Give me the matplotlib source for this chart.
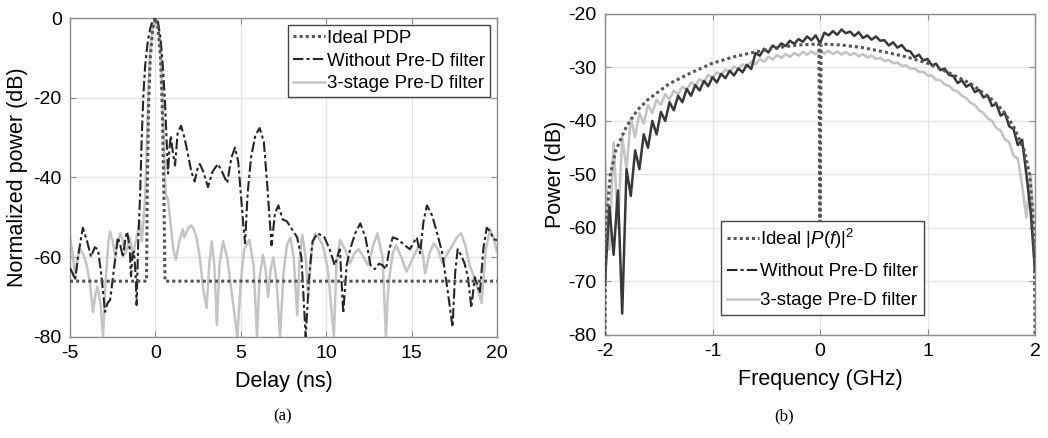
import numpy as np
import matplotlib
matplotlib.use('Agg')
import matplotlib.pyplot as plt
from matplotlib.lines import Line2D

plt.rcParams['font.family'] = ['Liberation Sans', 'DejaVu Sans']
plt.rcParams['mathtext.fontset'] = 'custom'
plt.rcParams['mathtext.rm'] = 'Liberation Sans'
plt.rcParams['mathtext.it'] = 'Liberation Sans:italic'
plt.rcParams['axes.unicode_minus'] = False

# ---- (a) power delay profile ----
ideal_x = [-5, -0.52, -0.48, -0.4, -0.3, -0.15, 0, 0.15, 0.3, 0.4, 0.5, 0.56, 20]
ideal_y = [-66, -66, -45, -22, -10, -2.5, 0, -2.5, -10, -22, -45, -66, -66]

wo_x = [-5.0, -4.85, -4.7, -4.5, -4.25, -4.0, -3.77, -3.55, -3.36, -3.15, -2.95, -2.8,
        -2.65, -2.4, -2.2, -2.05, -1.9, -1.75, -1.65, -1.5, -1.43, -1.33, -1.25, -1.15,
        -1.1, -1.0, -0.9, -0.8, -0.7, -0.6, -0.45, -0.3, -0.15, 0.0, 0.15, 0.3, 0.45,
        0.56, 0.65, 0.74, 0.82, 0.9, 1.0, 1.15, 1.3, 1.5, 1.7, 1.9, 2.1, 2.3, 2.45, 2.6,
        2.8, 3.08, 3.35, 3.66, 3.9, 4.2, 4.45, 4.66, 4.85, 5.0, 5.15, 5.25, 5.4, 5.6,
        5.85, 6.1, 6.35, 6.55, 6.8, 7.0, 7.2, 7.45, 7.7, 8.0, 8.3, 8.55, 8.8, 9.0, 9.2,
        9.5, 9.7, 9.9, 10.2, 10.5, 10.8, 11.0, 11.2, 11.4, 11.7, 12.0, 12.3, 12.6, 12.85,
        13.1, 13.3, 13.5, 13.7, 13.9, 14.2, 14.6, 14.9, 15.1, 15.3, 15.5, 15.7, 15.9,
        16.2, 16.5, 16.8, 17.1, 17.4, 17.55, 17.7, 17.9, 18.1, 18.3, 18.5, 18.7, 18.85,
        19.0, 19.2, 19.4, 19.6, 19.8, 20.0]
wo_y = [-62.7, -64, -65.7, -59, -52.6, -56, -59.9, -57.5, -58.1, -65, -73.7, -71.5,
        -70.7, -62, -55, -57, -60, -55, -53.6, -58, -64.8, -59, -58.6, -65,
        -72, -55, -45, -30, -19, -12, -6, -2.5, -0.6, 0, -1, -5, -13,
        -21, -30, -39, -33, -29.5, -33, -37, -29, -27, -30, -34, -38.5, -41, -38, -36.6,
        -38.5, -42.4, -38.5, -36.6, -38.5, -41.4, -35, -32.5, -36, -44, -52, -56.5, -44, -35,
        -29.5, -27.6, -31, -42, -57, -49, -47, -50.5, -51, -53, -55, -60, -80, -65, -56,
        -54, -54.5, -55, -58, -62, -58, -74, -62, -58, -54, -51.5, -55, -62, -63,
        -61.6, -62, -63, -58, -55, -55.5, -57, -58, -56.5, -55, -59, -51, -47,
        -49.5, -54, -59, -68, -77.5, -64, -58, -59.5, -61.5, -65, -72.7, -65, -67,
        -69, -58, -52.6, -53.5, -55.5, -55.7]

st_x = [-5.0, -4.85, -4.7, -4.55, -4.4, -4.2, -4.05, -3.85, -3.65, -3.5, -3.4, -3.2,
        -3.07, -2.9, -2.75, -2.65, -2.5, -2.35, -2.2, -2.05, -1.9, -1.75, -1.6, -1.5,
        -1.4, -1.3, -1.2, -1.1, -1.0, -0.9, -0.8, -0.7, -0.6, -0.5, -0.4, -0.3, -0.15,
        0.0, 0.15, 0.3, 0.4, 0.5, 0.6, 0.74, 0.9, 1.05, 1.2, 1.4, 1.6, 1.7, 1.8, 1.95,
        2.1, 2.25, 2.4, 2.6, 2.8, 3.0, 3.15, 3.3, 3.45, 3.6, 3.75, 3.96, 4.2, 4.5, 4.8,
        5.0, 5.2, 5.5, 5.75, 5.95, 6.1, 6.3, 6.45, 6.6, 6.75, 6.9, 7.1, 7.3, 7.5, 7.7,
        7.9, 8.1, 8.3, 8.45, 8.6, 8.8, 8.95, 9.15, 9.35, 9.55, 9.8, 10.1, 10.45, 10.6,
        10.8, 11.1, 11.4, 11.65, 11.9, 12.2, 12.45, 12.75, 13.0, 13.3, 13.5, 13.6, 13.7,
        13.9, 14.1, 14.4, 14.7, 15.1, 15.5, 15.65, 15.8, 16.05, 16.3, 16.55, 16.8, 17.1,
        17.4, 17.65, 17.9, 18.15, 18.4, 18.75, 19.1, 19.35, 19.6, 19.8, 20.0]
st_y = [-55, -59, -64.8, -60, -58, -59.5, -61.5, -66, -73.7, -69, -67.4, -72,
        -80, -65, -56, -53.6, -56, -59.9, -56, -54, -56, -59, -57, -55,
        -57.5, -60, -57, -55, -53, -51, -56, -51, -45, -32, -18, -8, -2,
        0, -2, -8, -18, -32, -44, -45.6, -52, -58, -60.6, -56, -53, -55, -54, -52.5,
        -52, -53, -55, -60, -68, -72.7, -62, -56, -62, -77, -62, -56, -60, -70, -80,
        -66, -58, -55.6, -62, -80, -65, -59.4, -63, -70, -63, -60, -66, -80, -64, -57,
        -55, -60, -74.5, -60, -54.4, -60, -70, -58, -54, -55, -57, -63, -80, -62,
        -55.6, -58, -61.5, -59, -58, -60, -62, -57, -54, -60, -80, -70, -65,
        -59, -57, -60, -63.6, -60, -56.5, -59, -64, -59, -56.5, -58, -61.5, -59,
        -57, -55, -54, -57, -62, -66, -71.5, -58, -53, -55, -58.6]

# ---- (b) power spectrum ----
ideal_f = [-2.0, -1.995, -1.98, -1.95, -1.9, -1.8, -1.7, -1.6, -1.5, -1.4, -1.2, -1.0,
           -0.8, -0.6, -0.4, -0.2, -0.01, 0.0, 0.01, 0.2, 0.4, 0.6, 0.8, 1.0, 1.2, 1.4,
           1.5, 1.6, 1.7, 1.8, 1.9, 1.95, 1.98, 1.995, 2.0]
ideal_p = [-80, -66, -57, -50, -45.5, -41, -38, -36, -34.5, -33, -31, -29.2,
           -28, -27.1, -26.3, -25.8, -25.6, -60, -25.6, -25.8, -26.3, -27.1, -28,
           -29.2, -31, -33, -34.5, -36, -38, -41, -45.5, -50, -57, -66, -80]

freq = np.linspace(-2, 2, 101)
wo_p = [-70, -56, -65, -53, -76, -49, -54, -45.5, -49, -42.5,
        -45, -40, -42.5, -38.3, -40, -36.5, -38, -35.3, -36.5, -34,
        -35.3, -33.3, -34.3, -32.5, -33.5, -31.8, -32.8, -31.2, -32, -30.6,
        -31.5, -30.2, -30.9, -29.5, -30.3, -27.3, -27.8, -26.5, -27.2, -25.9,
        -26.5, -25.5, -26, -25, -25.6, -24.7, -25.2, -24.2, -24.9, -24,
        -25.5,
        -23.5, -24, -23.2, -23.9, -22.9, -23.6, -23.3, -24.1, -23.4, -24.5,
        -24, -24.8, -24.2, -25, -24.9, -25.9, -25.3, -26.3, -25.8, -26.8,
        -27, -28.1, -27.6, -28.7, -28.4, -29.6, -29.3, -30.5, -30.2, -31.4,
        -31.6, -32.9, -32.4, -33.6, -33.1, -34.6, -34.2, -35.6, -35.2, -37.2,
        -36.8, -39, -38.5, -41, -41.5, -44.5, -43.5, -50, -57, -68]
st_p = [-48, -64, -44, -60, -43, -49, -39.5, -43, -38.5, -40.5,
        -37, -38.5, -36, -37, -35, -36, -34.3, -35, -33.6, -34.2,
        -32.8, -33.4, -32.2, -32.8, -31.4, -32, -30.9, -31.4, -30.4, -30.9,
        -29.8, -30.3, -29.4, -29.8, -28.9, -29.4, -28.4, -28.9, -28, -28.5,
        -27.7, -28.2, -27.5, -28, -27.3, -27.8, -27.1, -27.6, -27, -27.5,
        -26.9,
        -27.4, -26.9, -27.5, -27, -27.6, -27.1, -27.7, -27.3, -27.9, -27.5,
        -28.1, -27.8, -28.4, -28.2, -28.8, -28.6, -29.2, -29.1, -29.7, -29.6,
        -30.2, -30.2, -30.8, -30.8, -31.5, -31.5, -32.3, -32.4, -33.2, -33.4,
        -34.2, -34.5, -35.3, -35.7, -36.6, -37, -38, -38.5, -39.5, -40,
        -41.3, -41.8, -43.4, -44, -46.5, -47, -52, -58, -50, -69]

c_ideal = '#555555'
c_wo = '#262626'
c_st = '#c4c4c4'
c_axis = '#8c8c8c'
c_grid = '#e3e3e3'
dashdot = (0, (5, 1.5, 1.5, 1.5))


def style_axes(ax):
    ax.grid(True, color=c_grid, linewidth=0.9)
    ax.set_axisbelow(True)
    for s in ax.spines.values():
        s.set_color(c_axis)
        s.set_linewidth(1.0)
    ax.tick_params(direction='in', length=4, top=True, right=True,
                   color=c_axis, labelsize=14, pad=6)


fig = plt.figure(figsize=(10.48, 4.38), dpi=100)
ax1 = fig.add_axes([0.0668, 0.2306, 0.4074, 0.7283])
ax2 = fig.add_axes([0.5773, 0.2352, 0.4103, 0.7329])

ax1.plot(st_x, st_y, color=c_st, linewidth=1.8, label='3-stage Pre-D filter', zorder=2)
ax1.plot(wo_x, wo_y, color=c_wo, linewidth=1.5, linestyle=dashdot,
         label='Without Pre-D filter', zorder=3)
ax1.plot(ideal_x, ideal_y, color=c_ideal, linewidth=2.2, linestyle=(0, (1, 1)),
         label='Ideal PDP', zorder=4)
ax1.set_xlim(-5, 20)
ax1.set_ylim(-80, 0)
ax1.set_xticks([-5, 0, 5, 10, 15, 20])
ax1.set_yticks([-80, -60, -40, -20, 0])
ax1.set_xlabel('Delay (ns)', fontsize=15.5, labelpad=6)
ax1.set_ylabel('Normalized power (dB)', fontsize=15.5, labelpad=4)
style_axes(ax1)
h, l = ax1.get_legend_handles_labels()
leg1 = ax1.legend(h[::-1], l[::-1], loc='upper right', bbox_to_anchor=(0.983, 0.978),
                  fontsize=13.5, frameon=True, fancybox=False, edgecolor='#444444',
                  borderpad=0.25, labelspacing=0.3, handlelength=1.7,
                  handletextpad=0.1, borderaxespad=0.0, framealpha=1.0)
leg1.get_frame().set_linewidth(1.0)

ax2.plot(freq, st_p, color=c_st, linewidth=1.9, zorder=2)
ax2.plot(freq, wo_p, color='#383838', linewidth=1.8, zorder=3)
ax2.plot(ideal_f, ideal_p, color=c_ideal, linewidth=2.2, linestyle=(0, (1, 1)), zorder=4)
ax2.set_xlim(-2, 2)
ax2.set_ylim(-80, -20)
ax2.set_xticks([-2, -1, 0, 1, 2])
ax2.set_yticks([-80, -70, -60, -50, -40, -30, -20])
ax2.set_xlabel('Frequency (GHz)', fontsize=15.5, labelpad=6)
ax2.set_ylabel('Power (dB)', fontsize=15.5, labelpad=2)
style_axes(ax2)
handles2 = [Line2D([], [], color=c_ideal, linewidth=2.2, linestyle=(0, (1, 1))),
            Line2D([], [], color=c_wo, linewidth=1.5, linestyle=dashdot),
            Line2D([], [], color=c_st, linewidth=1.8)]
labels2 = [r'Ideal |$P(f)$|$^2$', 'Without Pre-D filter', '3-stage Pre-D filter']
leg2 = ax2.legend(handles2, labels2, loc='lower left', bbox_to_anchor=(0.27, 0.062),
                  fontsize=13.5, frameon=True, fancybox=False, edgecolor='#444444',
                  borderpad=0.3, labelspacing=0.65, handlelength=1.7,
                  handletextpad=0.1, borderaxespad=0.0, framealpha=1.0)
leg2.get_frame().set_linewidth(1.0)

fig.text(0.27, 0.04, '(a)', fontsize=12, family=['Liberation Serif'], ha='center')
fig.text(0.748, 0.04, '(b)', fontsize=12, family=['Liberation Serif'], ha='center')

fig.savefig('out.png', dpi=100)
